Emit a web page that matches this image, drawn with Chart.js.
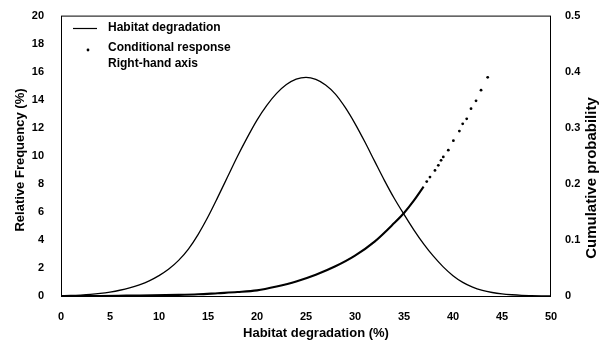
<!DOCTYPE html>
<html lang="en">
<head>
  <meta charset="UTF-8">
  <title>Habitat degradation</title>
  <script src="https://cdn.jsdelivr.net/npm/chart.js"></script>
  <style>
    body { margin: 0; background: #fff; }
    #chart { display: block; }
  </style>
</head>
<body>
  <canvas id="chart" width="604" height="346"></canvas>
  <script>
    // Relative frequency of habitat degradation (left axis, %)
    const degX = [0, 1, 2, 3, 4, 5, 6, 7, 8, 9, 10, 11, 12, 13, 14, 15, 16, 17, 18, 19, 20,
                  21, 22, 23, 24, 25, 26, 27, 28, 29, 30, 31, 32, 33, 34, 35, 36, 37, 38, 39, 40,
                  41, 42, 43, 44, 45, 46, 47, 48, 49, 50];
    const degFreq = [0.02, 0.035, 0.065, 0.11, 0.18, 0.28, 0.41, 0.58, 0.8, 1.08, 1.45,
                     1.92, 2.54, 3.35, 4.4, 5.65, 7.05, 8.5, 9.95, 11.3, 12.55,
                     13.6, 14.45, 15.08, 15.47, 15.6, 15.45, 15.05, 14.4, 13.45, 12.3,
                     11.0, 9.62, 8.25, 6.97, 5.82, 4.72, 3.72, 2.84, 2.08, 1.45,
                     0.97, 0.63, 0.4, 0.25, 0.15, 0.09, 0.05, 0.03, 0.015, 0.01];

    // Conditional response, cumulative probability (right axis): dense part drawn as a line
    const respX = [0, 4, 8, 12, 14, 16, 18, 20, 22, 24, 26, 28, 30, 32, 34, 35, 36, 37];
    const respP = [0, 0, 0.001, 0.002, 0.003, 0.005, 0.007, 0.01, 0.017, 0.026, 0.038, 0.053,
                   0.072, 0.097, 0.13, 0.148, 0.17, 0.195];

    // Sparse upper part drawn as single dots
    const dotX = [37.32, 37.65, 38.16, 38.5, 38.78, 39.01, 39.52, 40.04, 40.65, 40.99,
                  41.4, 41.84, 42.35, 42.86, 43.54];
    const dotP = [0.204, 0.212, 0.224, 0.233, 0.242, 0.248, 0.26, 0.277, 0.294, 0.307,
                  0.316, 0.334, 0.348, 0.367, 0.39];

    const xTicks = [0, 5, 10, 15, 20, 25, 30, 35, 40, 45, 50];
    const leftTicks = [0, 2, 4, 6, 8, 10, 12, 14, 16, 18, 20];
    const rightTicks = [0, 0.1, 0.2, 0.3, 0.4, 0.5];

    const toPoints = (xs, ys) => xs.map((x, i) => ({ x: x, y: ys[i] }));

    const tickFont = { family: 'Liberation Sans, Arial, sans-serif', size: 11, weight: 'bold' };

    // Frame, axis titles and the three-line legend
    const decorations = {
      id: 'decorations',
      afterDraw(chart) {
        const ctx = chart.ctx;
        const a = chart.chartArea;
        ctx.save();
        ctx.strokeStyle = '#000';
        ctx.lineWidth = 1;
        ctx.strokeRect(a.left + 0.5, a.top + 0.5, a.right - a.left - 1, a.bottom - a.top);

        ctx.fillStyle = '#000';
        ctx.textAlign = 'center';
        ctx.textBaseline = 'middle';

        ctx.font = 'bold 13px Liberation Sans, Arial, sans-serif';
        ctx.fillText('Habitat degradation (%)', 316, 333);

        ctx.save();
        ctx.translate(20, 160);
        ctx.rotate(-Math.PI / 2);
        ctx.fillText('Relative Frequency (%)', 0, 0);
        ctx.restore();

        ctx.save();
        ctx.font = 'bold 14px Liberation Sans, Arial, sans-serif';
        ctx.translate(592, 178);
        ctx.rotate(-Math.PI / 2);
        ctx.scale(1.07, 1);
        ctx.fillText('Cumulative probability', 0, 0);
        ctx.restore();

        // legend
        ctx.font = 'bold 12px Liberation Sans, Arial, sans-serif';
        ctx.textAlign = 'left';
        ctx.beginPath();
        ctx.moveTo(73, 28.5);
        ctx.lineTo(97, 28.5);
        ctx.lineWidth = 1.2;
        ctx.stroke();
        ctx.fillText('Habitat degradation', 108, 28);
        ctx.beginPath();
        ctx.arc(88, 50, 1.4, 0, Math.PI * 2);
        ctx.fill();
        ctx.fillText('Conditional response', 108, 47.5);
        ctx.fillText('Right-hand axis', 108, 63.5);
        ctx.restore();
      }
    };

    new Chart(document.getElementById('chart'), {
      type: 'scatter',
      data: {
        datasets: [
          {
            label: 'Habitat degradation',
            data: toPoints(degX, degFreq),
            showLine: true,
            borderColor: '#000',
            borderWidth: 1.3,
            pointRadius: 0,
            cubicInterpolationMode: 'monotone',
            yAxisID: 'y'
          },
          {
            label: 'Conditional response',
            data: toPoints(respX, respP),
            showLine: true,
            borderColor: '#000',
            borderWidth: 2.1,
            pointRadius: 0,
            cubicInterpolationMode: 'monotone',
            yAxisID: 'y1'
          },
          {
            label: 'Conditional response dots',
            data: toPoints(dotX, dotP),
            showLine: false,
            backgroundColor: '#000',
            borderWidth: 0,
            pointRadius: 1.4,
            yAxisID: 'y1'
          }
        ]
      },
      options: {
        responsive: false,
        animation: false,
        layout: { padding: { top: 14, left: 0, right: 0, bottom: 0 } },
        plugins: {
          legend: { display: false },
          tooltip: { enabled: false }
        },
        scales: {
          x: {
            type: 'linear',
            min: 0,
            max: 50,
            afterBuildTicks: s => { s.ticks = xTicks.map(v => ({ value: v })); },
            afterFit: s => { s.height = 50; },
            grid: { display: false },
            border: { display: false },
            ticks: { color: '#000', font: tickFont, padding: 6, maxRotation: 0 }
          },
          y: {
            position: 'left',
            min: 0,
            max: 20,
            afterBuildTicks: s => { s.ticks = leftTicks.map(v => ({ value: v })); },
            afterFit: s => { s.width = 61; },
            grid: { display: false },
            border: { display: false },
            ticks: { color: '#000', font: tickFont, padding: 9 }
          },
          y1: {
            position: 'right',
            min: 0,
            max: 0.5,
            afterBuildTicks: s => { s.ticks = rightTicks.map(v => ({ value: v })); },
            afterFit: s => { s.width = 53; },
            grid: { display: false },
            border: { display: false },
            ticks: { color: '#000', font: tickFont, padding: 6 }
          }
        }
      },
      plugins: [decorations]
    });
  </script>
</body>
</html>
